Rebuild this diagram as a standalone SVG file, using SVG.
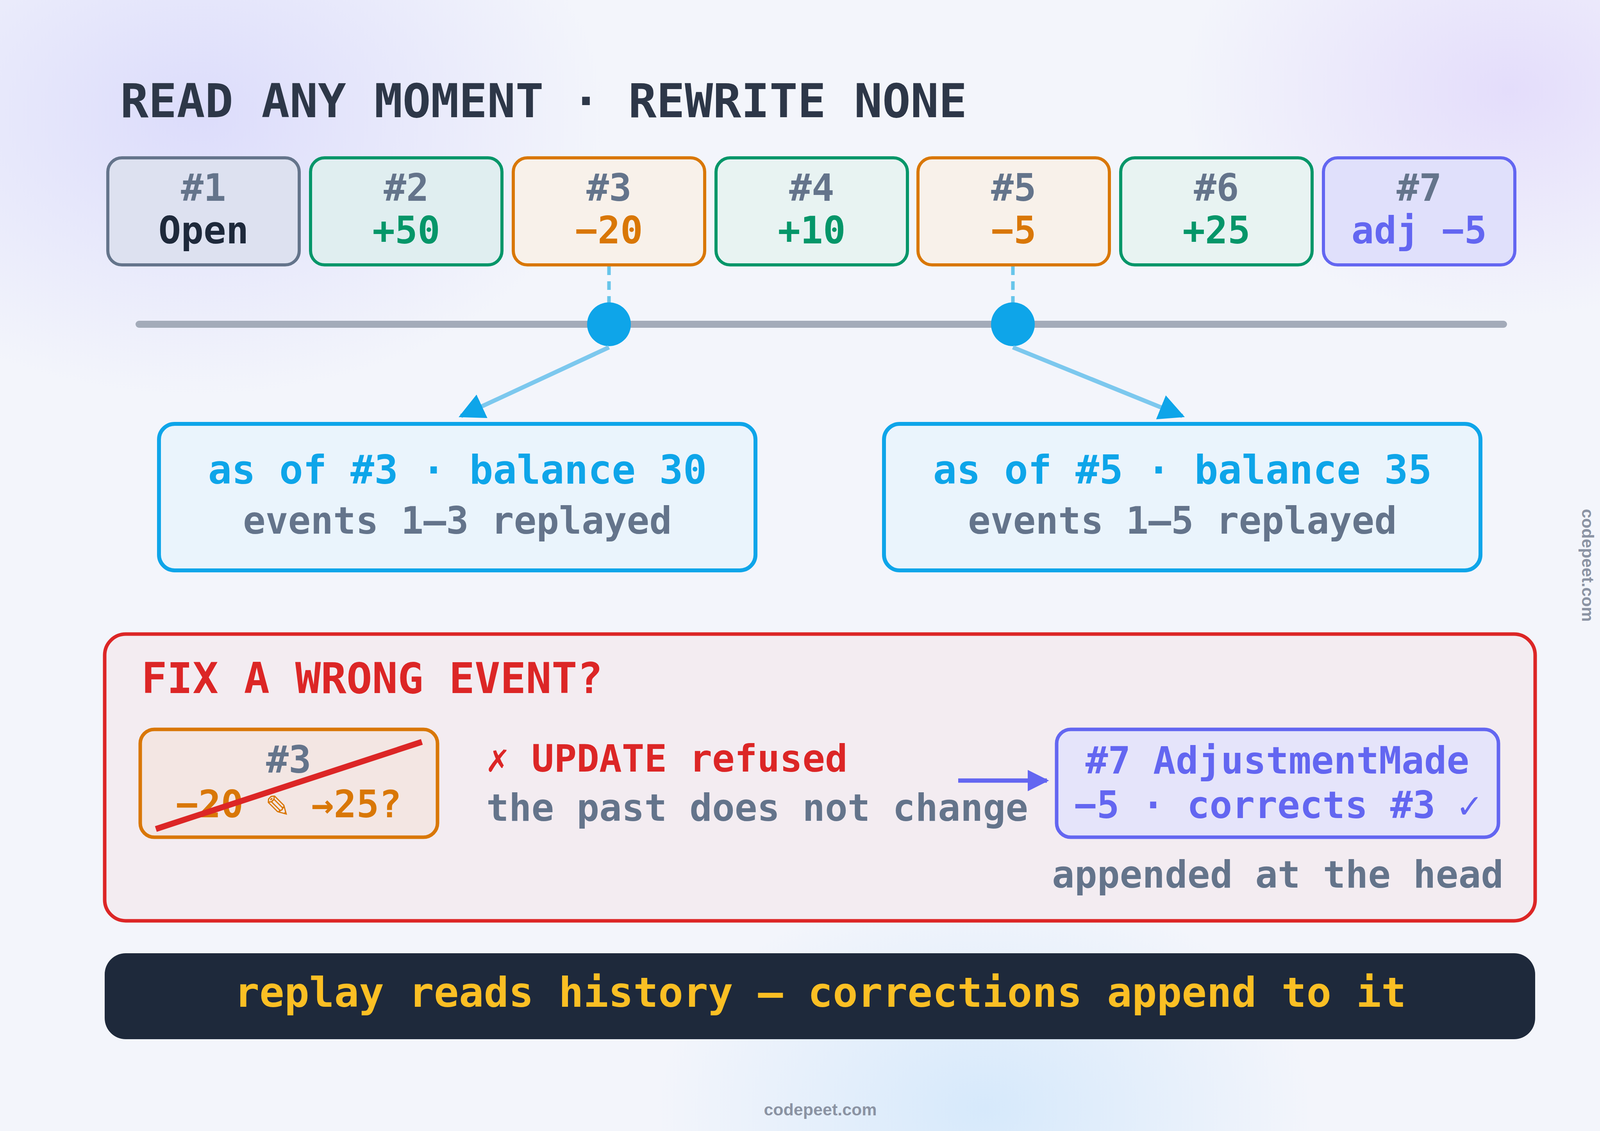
<svg xmlns="http://www.w3.org/2000/svg" width="4200" height="2895" viewBox="0 0 4200 2895">
<defs>
<radialGradient id="g1" cx="0.12" cy="0.1" r="0.25"><stop offset="0" stop-color="#dcdcfb"/><stop offset="1" stop-color="#dcdcfb" stop-opacity="0"/></radialGradient>
<radialGradient id="g2" cx="0.92" cy="0.08" r="0.2"><stop offset="0" stop-color="#e4ddfb"/><stop offset="1" stop-color="#e4ddfb" stop-opacity="0"/></radialGradient>
<radialGradient id="g3" cx="0.6" cy="0.98" r="0.2"><stop offset="0" stop-color="#d6e9fb"/><stop offset="1" stop-color="#d6e9fb" stop-opacity="0"/></radialGradient>
<marker id="ab" viewBox="0 0 10 10" refX="9" refY="5" markerWidth="6" markerHeight="6" markerUnits="strokeWidth" orient="auto"><path d="M0,0L10,5L0,10z" fill="#0ea5e9"/></marker>
<marker id="ap" viewBox="0 0 10 10" refX="9" refY="5" markerWidth="5" markerHeight="5" markerUnits="strokeWidth" orient="auto"><path d="M0,0L10,5L0,10z" fill="#6366f1"/></marker>
<style>
text{font-family:"DejaVu Sans Mono","Liberation Mono",monospace;font-weight:bold}
.ev{stroke-width:8}
.n{font-size:96px;fill:#64748b;text-anchor:middle}
.v{font-size:96px;text-anchor:middle}
.res{fill:#eaf4fc;stroke:#0ea5e9;stroke-width:10}
.r1{font-size:101px;fill:#0ea5e9;text-anchor:middle}
.g{font-size:96px;fill:#64748b}
</style>
</defs>
<rect width="4200" height="2895" fill="#f3f5fb"/>
<rect width="4200" height="2895" fill="url(#g1)"/>
<rect width="4200" height="2895" fill="url(#g2)"/>
<rect width="4200" height="2895" fill="url(#g3)"/>
<text x="308" y="300" font-size="120" fill="#2d3748">READ ANY MOMENT · REWRITE NONE</text>
<g id="events">
<g id="e1"><rect class="ev" x="276" y="404" width="490" height="274" rx="36" fill="#dde1f0" stroke="#64748b"/><text class="n" x="521" y="514">#1</text><text class="v" x="521" y="623" fill="#1e293b">Open</text></g>
<g id="e2"><rect class="ev" x="795" y="404" width="490" height="274" rx="36" fill="#e0eef0" stroke="#059669"/><text class="n" x="1040" y="514">#2</text><text class="v" x="1040" y="623" fill="#059669">+50</text></g>
<g id="e3"><rect class="ev" x="1314" y="404" width="490" height="274" rx="36" fill="#f8f1ea" stroke="#d97706"/><text class="n" x="1559" y="514">#3</text><text class="v" x="1559" y="623" fill="#d97706">−20</text></g>
<g id="e4"><rect class="ev" x="1833" y="404" width="490" height="274" rx="36" fill="#e8f3f2" stroke="#059669"/><text class="n" x="2078" y="514">#4</text><text class="v" x="2078" y="623" fill="#059669">+10</text></g>
<g id="e5"><rect class="ev" x="2350" y="404" width="490" height="274" rx="36" fill="#f8f1ea" stroke="#d97706"/><text class="n" x="2595" y="514">#5</text><text class="v" x="2595" y="623" fill="#d97706">−5</text></g>
<g id="e6"><rect class="ev" x="2869" y="404" width="490" height="274" rx="36" fill="#e8f3f2" stroke="#059669"/><text class="n" x="3114" y="514">#6</text><text class="v" x="3114" y="623" fill="#059669">+25</text></g>
<g id="e7"><rect class="ev" x="3388" y="404" width="490" height="274" rx="36" fill="#e0e0fb" stroke="#6366f1"/><text class="n" x="3633" y="514">#7</text><text class="v" x="3633" y="623" fill="#6366f1">adj −5</text></g>
</g>
<g id="asof3"><rect class="res" x="407" y="1085" width="1527" height="375" rx="40"/><text class="r1" x="1171" y="1238">as of #3 · balance 30</text><text class="g" x="1171" y="1366" text-anchor="middle">events 1–3 replayed</text></g>
<g id="asof5"><rect class="res" x="2263" y="1085" width="1527" height="375" rx="40"/><text class="r1" x="3027" y="1238">as of #5 · balance 35</text><text class="g" x="3027" y="1366" text-anchor="middle">events 1–5 replayed</text></g>
<g id="fix">
<rect x="268" y="1623" width="3662" height="734" rx="54" fill="#f3ecf1" stroke="#dc2626" stroke-width="9"/>
<text x="362" y="1774" font-size="109" fill="#dc2626">FIX A WRONG EVENT?</text>
<g id="bad"><rect x="359" y="1867" width="761" height="276" rx="36" fill="#f3e6e3" stroke="#d97706" stroke-width="9"/>
<text class="n" x="739" y="1978">#3</text><text class="v" x="739" y="2092" fill="#d97706">−20 ✎ →25?</text>
<line x1="399" y1="2122" x2="1080" y2="1899" stroke="#dc2626" stroke-width="15"/></g>
<text x="1245" y="1975" font-size="96" fill="#dc2626">✗ UPDATE refused</text>
<text class="g" x="1245" y="2101">the past does not change</text>
<g id="adj"><rect x="2705" y="1867" width="1131" height="276" rx="36" fill="#e5e4fa" stroke="#6366f1" stroke-width="9"/>
<text class="v" x="3270" y="1980" fill="#6366f1">#7 AdjustmentMade</text><text class="v" x="3270" y="2094" fill="#6366f1">−5 · corrects #3 ✓</text></g>
<text class="g" x="3849" y="2272" text-anchor="end">appended at the head</text>
</g>
<g id="connectors">
<line x1="356" y1="830" x2="3849" y2="830" stroke="#a3abb9" stroke-width="18" stroke-linecap="round"/>
<line x1="1559" y1="682" x2="1559" y2="790" stroke="#67c5ea" stroke-width="9" stroke-dasharray="22 16"/>
<line x1="2593" y1="682" x2="2593" y2="790" stroke="#67c5ea" stroke-width="9" stroke-dasharray="22 16"/>
<circle cx="1559" cy="830" r="56" fill="#0ea5e9"/>
<circle cx="2593" cy="830" r="56" fill="#0ea5e9"/>
<line x1="1559" y1="889" x2="1180" y2="1065" stroke="#7cc8ee" stroke-width="11" marker-end="url(#ab)"/>
<line x1="2593" y1="889" x2="3027" y2="1065" stroke="#7cc8ee" stroke-width="11" marker-end="url(#ab)"/>
<line x1="2453" y1="1998" x2="2680" y2="1998" stroke="#6366f1" stroke-width="11" marker-end="url(#ap)"/>
</g>
<g id="footer"><rect x="268" y="2440" width="3662" height="220" rx="54" fill="#1e293b"/>
<text x="2100" y="2577" font-size="106" fill="#fbbf24" text-anchor="middle">replay reads history — corrections append to it</text></g>
<text x="2100" y="2855" font-size="43" fill="#8b93a3" text-anchor="middle" style="font-family:'Liberation Sans',sans-serif">codepeet.com</text>
<text transform="translate(4050,1447) rotate(90)" font-size="43" fill="#8b93a3" text-anchor="middle" style="font-family:'Liberation Sans',sans-serif">codepeet.com</text>
</svg>
